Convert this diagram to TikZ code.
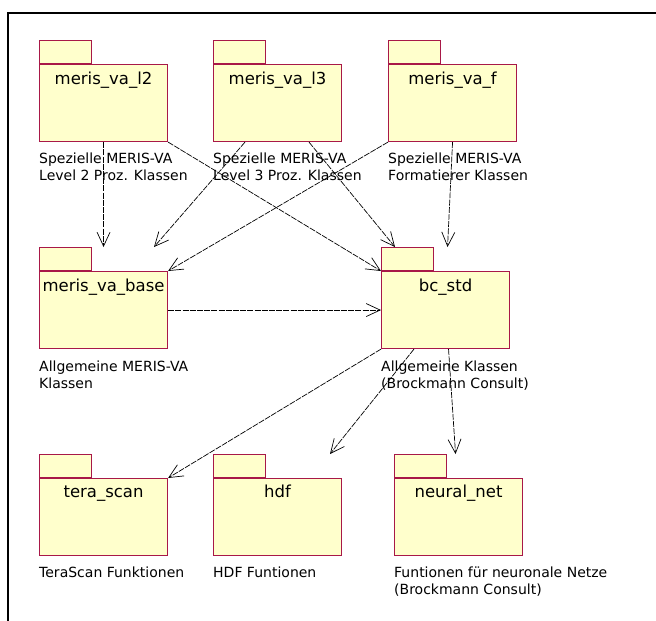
\documentclass[tikz,border=0pt]{standalone}
\usepackage{fontspec}
\setmainfont{DejaVu Sans}
\usetikzlibrary{arrows.meta}
\definecolor{pkgfill}{RGB}{255,255,204}
\definecolor{pkgline}{RGB}{168,24,72}
\begin{document}
\begin{tikzpicture}[x=1pt,y=-1pt,
		dep/.style={-{Straight Barb[length=14pt,width=13pt]},line width=0.7pt,dash pattern=on 6pt off 1.2pt},
		pkgbody/.style={draw=pkgline,fill=pkgfill,line width=1.1pt,minimum width=128pt,minimum height=77pt,inner sep=0pt,anchor=north west},
		pkgtab/.style={draw=pkgline,fill=pkgfill,line width=1.1pt,minimum width=52pt,minimum height=23pt,inner sep=0pt,anchor=south west},
		pkgname/.style={font=\fontsize{16.5}{19}\selectfont,inner sep=0pt,anchor=base},
		pkgnote/.style={font=\fontsize{14}{17}\selectfont,inner sep=0pt,anchor=north west,align=left}]

		\useasboundingbox (0,0) rectangle (656,621);
		\draw[line width=2pt] (8.3,621) -- (8.3,13.3) -- (656,13.3);

		% packages
		\node[pkgbody] (l2)   at (39,64)   {};
		\node[pkgbody] (l3)   at (213,64)  {};
		\node[pkgbody] (vaf)  at (388,64)  {};
		\node[pkgbody] (base) at (39,271)  {};
		\node[pkgbody] (std)  at (381,271) {};
		\node[pkgbody] (tera) at (39,478)  {};
		\node[pkgbody] (hdf)  at (213,478) {};
		\node[pkgbody] (nnet) at (394,478) {};

		\node[pkgtab] (l2tab)   at (l2.north west)   {};
		\node[pkgtab] (l3tab)   at (l3.north west)   {};
		\node[pkgtab] (vaftab)  at (vaf.north west)  {};
		\node[pkgtab] (basetab) at (base.north west) {};
		\node[pkgtab] (stdtab)  at (std.north west)  {};
		\node[pkgtab] (teratab) at (tera.north west) {};
		\node[pkgtab] (hdftab)  at (hdf.north west)  {};
		\node[pkgtab] (nnettab) at (nnet.north west) {};

		\node[pkgname] (l2name)   at ([yshift=-20pt]l2.north)   {meris\_va\_l2};
		\node[pkgname] (l3name)   at ([yshift=-20pt]l3.north)   {meris\_va\_l3};
		\node[pkgname] (vafname)  at ([yshift=-20pt]vaf.north)  {meris\_va\_f};
		\node[pkgname] (basename) at ([yshift=-20pt]base.north) {meris\_va\_base};
		\node[pkgname] (stdname)  at ([yshift=-20pt]std.north)  {bc\_std};
		\node[pkgname] (teraname) at ([yshift=-19pt]tera.north) {tera\_scan};
		\node[pkgname] (hdfname)  at ([yshift=-19pt]hdf.north)  {hdf};
		\node[pkgname] (nnetname) at ([yshift=-19pt]nnet.north) {neural\_net};

		\node[pkgnote] (l2note)   at ([yshift=-11pt]l2.south west)   {Spezielle MERIS-VA\\Level 2 Proz. Klassen};
		\node[pkgnote] (l3note)   at ([yshift=-11pt]l3.south west)   {Spezielle MERIS-VA\\Level 3 Proz. Klassen};
		\node[pkgnote] (vafnote)  at ([yshift=-11pt]vaf.south west)  {Spezielle MERIS-VA\\Formatierer Klassen};
		\node[pkgnote] (basenote) at ([yshift=-12pt]base.south west) {Allgemeine MERIS-VA\\Klassen};
		\node[pkgnote] (stdnote)  at ([yshift=-12pt]std.south west)  {Allgemeine Klassen\\(Brockmann Consult)};
		\node[pkgnote] (teranote) at ([yshift=-11pt]tera.south west) {TeraScan Funktionen};
		\node[pkgnote] (hdfnote)  at ([yshift=-11pt]hdf.south west)  {HDF Funtionen};
		\node[pkgnote] (nnetnote) at ([yshift=-11pt]nnet.south west) {Funtionen für neuronale Netze\\(Brockmann Consult)};

		% dependencies
		\draw[dep] (l2.south) -- ([yshift=24pt]base.north);
		\draw[dep] (l2.south east) -- (std.north west);
		\draw[dep] ([xshift=32pt]l3.south west) -- ([xshift=115pt,yshift=24pt]base.north west);
		\draw[dep] ([xshift=96pt]l3.south west) -- ([xshift=14pt,yshift=24pt]std.north west);
		\draw[dep] (vaf.south west) -- (base.north east);
		\draw[dep] (vaf.south) -- ([xshift=2pt,yshift=24pt]std.north);
		\draw[dep] (base.east) -- (std.west);
		\draw[dep] (std.south west) -- (tera.north east);
		\draw[dep] ([xshift=33pt]std.south west) -- ([xshift=117pt,yshift=24pt]hdf.north west);
		\draw[dep] ([xshift=3pt]std.south) -- ([xshift=-3pt,yshift=24pt]nnet.north);
	\end{tikzpicture}
\end{document}
